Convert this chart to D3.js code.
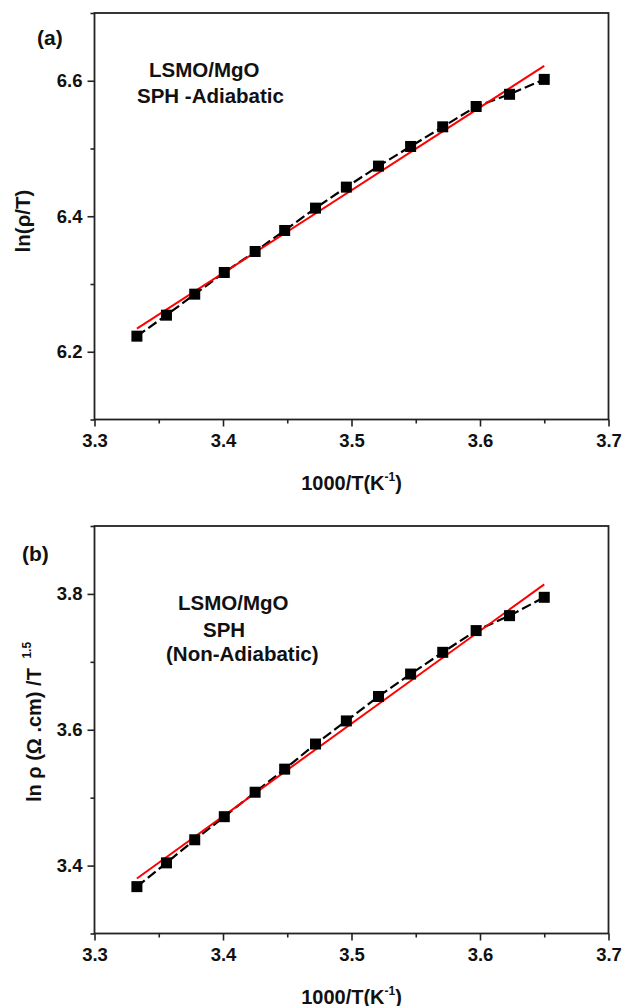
<!DOCTYPE html>
<html>
<head>
<meta charset="utf-8">
<script src="https://cdn.jsdelivr.net/npm/d3@7/dist/d3.min.js"></script>
<style>
  html, body { margin: 0; padding: 0; background: #fff; }
  svg text { font-family: "Liberation Sans", Arial, sans-serif; font-weight: bold; fill: #111; }
</style>
</head>
<body>
<svg id="chart" width="624" height="1006"></svg>
<script>
// Inverse temperature, 1000/T (K^-1)
const invT = [3.333, 3.356, 3.378, 3.401, 3.425, 3.448, 3.472, 3.496, 3.521, 3.546, 3.571, 3.597, 3.623, 3.650];
// (a) adiabatic small-polaron hopping: ln(rho/T)
const lnRhoT = [6.223, 6.254, 6.285, 6.317, 6.348, 6.379, 6.412, 6.443, 6.474, 6.503, 6.532, 6.562, 6.580, 6.602];
// (b) non-adiabatic small-polaron hopping: ln(rho/T^1.5)
const lnRhoT15 = [3.369, 3.404, 3.438, 3.472, 3.508, 3.542, 3.579, 3.613, 3.649, 3.682, 3.714, 3.746, 3.768, 3.795];
// Linear fit end points
const fitX = [3.333, 3.650];
const fitA = [6.234, 6.622];
const fitB = [3.381, 3.814];
// Axis ranges and ticks
const xDomain = [3.3, 3.7];
const xTicks = [3.3, 3.4, 3.5, 3.6, 3.7];
const xMinor = [3.35, 3.45, 3.55, 3.65];
const yDomainA = [6.1, 6.7];
const yTicksA = [6.2, 6.4, 6.6];
const yMinorA = [6.1, 6.3, 6.5, 6.7];
const yDomainB = [3.3, 3.9];
const yTicksB = [3.4, 3.6, 3.8];
const yMinorB = [3.3, 3.5, 3.7, 3.9];

const svg = d3.select("#chart");

const panels = [
  {
    top: 13, bottom: 419.5, yDomain: yDomainA, yTicks: yTicksA, yMinor: yMinorA,
    values: lnRhoT, fit: fitA, tag: "(a)", tagPos: [37, 45],
    notes: [["LSMO/MgO", 149, 77], ["SPH -Adiabatic", 137, 103]]
  },
  {
    top: 526, bottom: 933.5, yDomain: yDomainB, yTicks: yTicksB, yMinor: yMinorB,
    values: lnRhoT15, fit: fitB, tag: "(b)", tagPos: [22, 561],
    notes: [["LSMO/MgO", 178, 610], ["SPH", 203, 637], ["(Non-Adiabatic)", 166, 661]]
  }
];

const left = 94.5, right = 608.5;

panels.forEach(p => {
  const x = d3.scaleLinear().domain(xDomain).range([left, right]);
  const y = d3.scaleLinear().domain(p.yDomain).range([p.bottom, p.top]);
  const g = svg.append("g");

  // frame
  g.append("rect")
    .attr("x", left).attr("y", p.top)
    .attr("width", right - left).attr("height", p.bottom - p.top)
    .attr("fill", "none").attr("stroke", "#222").attr("stroke-width", 1.8);

  // minor ticks
  g.append("g").attr("transform", `translate(0,${p.bottom})`)
    .call(d3.axisBottom(x).tickValues(xMinor).tickSize(4).tickFormat(""))
    .call(a => a.select(".domain").remove());
  g.append("g").attr("transform", `translate(${left},0)`)
    .call(d3.axisLeft(y).tickValues(p.yMinor).tickSize(4).tickFormat(""))
    .call(a => a.select(".domain").remove());

  // major ticks and labels
  const xa = g.append("g").attr("transform", `translate(0,${p.bottom})`)
    .call(d3.axisBottom(x).tickValues(xTicks).tickSize(7).tickPadding(6).tickFormat(d3.format(".1f")));
  xa.select(".domain").remove();
  xa.selectAll("text").attr("font-size", 18.5).attr("dy", "0.8em");

  const ya = g.append("g").attr("transform", `translate(${left},0)`)
    .call(d3.axisLeft(y).tickValues(p.yTicks).tickSize(7).tickPadding(5).tickFormat(d3.format(".1f")));
  ya.select(".domain").remove();
  ya.selectAll("text").attr("font-size", 18.5);

  g.selectAll(".tick line").attr("stroke", "#222").attr("stroke-width", 1.6);

  // connecting dashed line
  const pts = invT.map((v, i) => [v, p.values[i]]);
  g.append("path")
    .attr("d", d3.line().x(d => x(d[0])).y(d => y(d[1]))(pts))
    .attr("fill", "none").attr("stroke", "#000").attr("stroke-width", 2.2)
    .attr("stroke-dasharray", "10,4");

  // linear fit
  g.append("line")
    .attr("x1", x(fitX[0])).attr("y1", y(p.fit[0]))
    .attr("x2", x(fitX[1])).attr("y2", y(p.fit[1]))
    .attr("stroke", "#ff0000").attr("stroke-width", 2);

  // square markers
  const s = 11;
  g.selectAll("rect.pt").data(pts).enter().append("rect")
    .attr("class", "pt")
    .attr("x", d => x(d[0]) - s / 2).attr("y", d => y(d[1]) - s / 2)
    .attr("width", s).attr("height", s).attr("fill", "#000");

  // panel tag
  g.append("text").attr("x", p.tagPos[0]).attr("y", p.tagPos[1])
    .attr("font-size", 21).text(p.tag);

  // annotations
  p.notes.forEach(n => {
    g.append("text").attr("x", n[1]).attr("y", n[2]).attr("font-size", 20.5).text(n[0]);
  });

  // x title
  const xt = g.append("text").attr("x", (left + right) / 2).attr("y", p.bottom + 70)
    .attr("text-anchor", "middle").attr("font-size", 20);
  xt.append("tspan").text("1000/T(K");
  xt.append("tspan").attr("font-size", 12).attr("dy", -9).text("-1");
  xt.append("tspan").attr("dy", 9).text(")");
});

// y titles
svg.append("text")
  .attr("transform", "translate(30,221) rotate(-90)")
  .attr("text-anchor", "middle").attr("font-size", 20.5)
  .text("ln(ρ/T)");

const yb = svg.append("text")
  .attr("transform", "translate(41,722) rotate(-90)")
  .attr("text-anchor", "middle").attr("font-size", 20);
yb.append("tspan").text("ln ρ (Ω .cm) /T ");
yb.append("tspan").attr("font-size", 12).attr("dy", -10).attr("dx", 4).text("1.5");
</script>
</body>
</html>
